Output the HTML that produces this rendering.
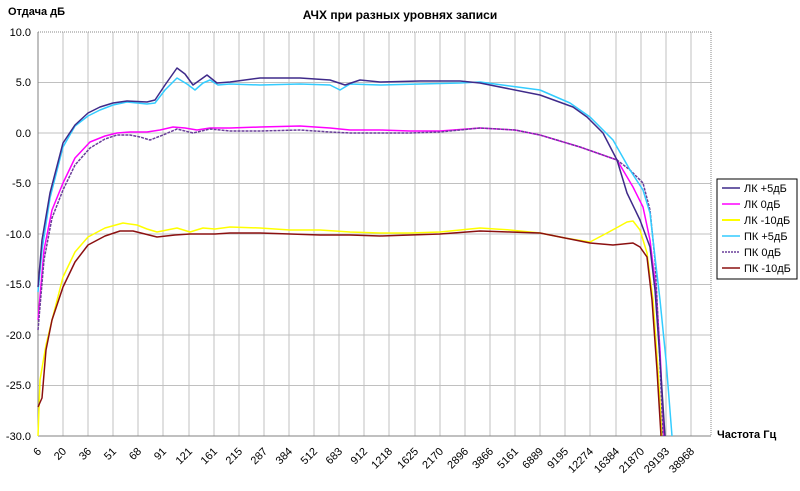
<!DOCTYPE html>
<html><head><meta charset="utf-8"><style>
body{margin:0;background:#fff;width:800px;height:486px;overflow:hidden}
svg text{font-family:"Liberation Sans",Arial,sans-serif}
</style></head><body>
<svg width="800" height="486" xmlns="http://www.w3.org/2000/svg">
<rect width="800" height="486" fill="#fff"/>
<text x="400" y="19" font-size="12" font-weight="bold" text-anchor="middle">АЧХ при разных уровнях записи</text>
<text x="8" y="15" font-size="11" font-weight="bold">Отдача дБ</text>
<text x="717" y="438" font-size="11" font-weight="bold">Частота Гц</text>
<g stroke="#c0c0c0" stroke-width="1">
<line x1="63" y1="32" x2="63" y2="436"/><line x1="88" y1="32" x2="88" y2="436"/><line x1="113" y1="32" x2="113" y2="436"/><line x1="138" y1="32" x2="138" y2="436"/><line x1="163" y1="32" x2="163" y2="436"/><line x1="189" y1="32" x2="189" y2="436"/><line x1="214" y1="32" x2="214" y2="436"/><line x1="239" y1="32" x2="239" y2="436"/><line x1="264" y1="32" x2="264" y2="436"/><line x1="289" y1="32" x2="289" y2="436"/><line x1="314" y1="32" x2="314" y2="436"/><line x1="339" y1="32" x2="339" y2="436"/><line x1="364" y1="32" x2="364" y2="436"/><line x1="389" y1="32" x2="389" y2="436"/><line x1="415" y1="32" x2="415" y2="436"/><line x1="440" y1="32" x2="440" y2="436"/><line x1="465" y1="32" x2="465" y2="436"/><line x1="490" y1="32" x2="490" y2="436"/><line x1="515" y1="32" x2="515" y2="436"/><line x1="540" y1="32" x2="540" y2="436"/><line x1="565" y1="32" x2="565" y2="436"/><line x1="590" y1="32" x2="590" y2="436"/><line x1="616" y1="32" x2="616" y2="436"/><line x1="641" y1="32" x2="641" y2="436"/><line x1="666" y1="32" x2="666" y2="436"/><line x1="691" y1="32" x2="691" y2="436"/>
<line x1="38" y1="82.5" x2="711" y2="82.5"/><line x1="38" y1="133" x2="711" y2="133"/><line x1="38" y1="183.5" x2="711" y2="183.5"/><line x1="38" y1="234" x2="711" y2="234"/><line x1="38" y1="284.5" x2="711" y2="284.5"/><line x1="38" y1="335" x2="711" y2="335"/><line x1="38" y1="385.5" x2="711" y2="385.5"/>
</g>
<line x1="38" y1="32" x2="711" y2="32" stroke="#888" stroke-dasharray="1,1"/>
<line x1="711" y1="32" x2="711" y2="436" stroke="#888" stroke-dasharray="1,1"/>
<line x1="38" y1="32" x2="38" y2="436" stroke="#808080"/>
<line x1="38" y1="436" x2="711" y2="436" stroke="#808080"/>
<g font-size="11" text-anchor="end">
<text x="31" y="36">10.0</text><text x="31" y="86">5.0</text><text x="31" y="137">0.0</text><text x="31" y="187">-5.0</text><text x="31" y="238">-10.0</text><text x="31" y="288">-15.0</text><text x="31" y="339">-20.0</text><text x="31" y="389">-25.0</text><text x="31" y="440">-30.0</text>
</g>
<g font-size="11" text-anchor="end">
<text transform="translate(42,452) rotate(-45)">6</text><text transform="translate(67,452) rotate(-45)">20</text><text transform="translate(92,452) rotate(-45)">36</text><text transform="translate(117,452) rotate(-45)">51</text><text transform="translate(142,452) rotate(-45)">68</text><text transform="translate(167,452) rotate(-45)">91</text><text transform="translate(193,452) rotate(-45)">121</text><text transform="translate(218,452) rotate(-45)">161</text><text transform="translate(243,452) rotate(-45)">215</text><text transform="translate(268,452) rotate(-45)">287</text><text transform="translate(293,452) rotate(-45)">384</text><text transform="translate(318,452) rotate(-45)">512</text><text transform="translate(343,452) rotate(-45)">683</text><text transform="translate(368,452) rotate(-45)">912</text><text transform="translate(393,452) rotate(-45)">1218</text><text transform="translate(419,452) rotate(-45)">1625</text><text transform="translate(444,452) rotate(-45)">2170</text><text transform="translate(469,452) rotate(-45)">2896</text><text transform="translate(494,452) rotate(-45)">3866</text><text transform="translate(519,452) rotate(-45)">5161</text><text transform="translate(544,452) rotate(-45)">6889</text><text transform="translate(569,452) rotate(-45)">9195</text><text transform="translate(594,452) rotate(-45)">12274</text><text transform="translate(620,452) rotate(-45)">16384</text><text transform="translate(645,452) rotate(-45)">21870</text><text transform="translate(670,452) rotate(-45)">29193</text><text transform="translate(695,452) rotate(-45)">38968</text>
</g>
<g fill="none" stroke-width="1.5" stroke-linejoin="round">
<!-- yellow LK -10 -->
<polyline stroke="#ffff00" points="38,436 40,380 46,345 52,320 63,277 75,252 88,237 105,228 123,223 137,225 147,229 157,232 167,230 177,228 190,232 203,228 215,229 230,227 260,228 290,230 320,230 350,232 380,233 410,233 440,232 480,228 510,230 540,233 565,238 590,242 607,233 618,227 627,222 633,221 640,230 647,253 653,300 658,370 662,436"/>
<!-- red PK -10 -->
<polyline stroke="#8b1010" points="38,407 42,398 46,350 52,320 63,287 75,262 88,245 105,236 120,231 133,231 145,234 157,237 175,235 190,234 215,234 230,233 260,233 290,234 320,235 350,235 380,236 410,235 440,234 480,231 510,232 540,233 565,238 590,243 613,245 633,243 640,247 647,257 652,300 657,370 661,436"/>
<!-- pink LK 0 -->
<polyline stroke="#ff00ff" points="38,320 44,250 52,210 63,183 75,158 90,142 105,136 117,133 130,132 147,132 160,130 173,127 185,128 197,130 210,128 230,128 260,127 300,126 330,128 350,130 380,130 410,131 440,131 480,128 515,130 540,135 580,147 617,160 633,187 643,207 650,240 656,290 660,350 664,436"/>
<!-- purple PK 0 -->
<polyline stroke="#6a3f9a" stroke-dasharray="3,1" points="38,330 44,260 52,218 63,190 75,165 90,148 105,139 117,135 130,135 140,137 150,140 163,135 177,129 193,133 210,129 230,131 260,131 300,130 330,132 350,133 380,133 410,133 440,132 480,128 515,130 540,135 580,147 617,160 630,170 643,183 650,210 655,260 659,340 663,436"/>
<!-- cyan PK +5 -->
<polyline stroke="#33ccff" points="38,292 42,250 50,198 63,147 75,126 88,116 100,110 113,105 127,102 147,104 155,103 165,90 177,78 187,84 195,90 203,83 210,80 218,85 230,84 260,85 300,84 330,85 340,90 350,84 380,85 420,84 460,83 480,82 540,90 570,103 590,117 613,140 630,170 643,190 650,213 655,257 660,300 666,360 672,436"/>
<!-- dark purple LK +5 -->
<polyline stroke="#3f2a8a" points="38,287 42,240 50,193 63,143 75,125 88,113 100,107 113,103 127,101 147,102 155,100 165,85 177,68 185,74 193,85 200,80 207,75 217,83 230,82 260,78 300,78 330,80 345,85 360,80 380,82 420,81 460,81 480,83 540,95 573,107 587,117 603,133 617,160 627,193 640,220 650,247 655,290 660,360 665,436"/>
</g>
<rect x="717" y="179" width="80" height="100" fill="#fff" stroke="#000" stroke-width="1"/>
<g stroke-width="1.5">
<line x1="722" y1="188" x2="740" y2="188" stroke="#3f2a8a"/>
<line x1="722" y1="204" x2="740" y2="204" stroke="#ff00ff"/>
<line x1="722" y1="220" x2="740" y2="220" stroke="#ffff00" stroke-width="2"/>
<line x1="722" y1="236" x2="740" y2="236" stroke="#33ccff"/>
<line x1="722" y1="252" x2="740" y2="252" stroke="#6a3f9a" stroke-dasharray="2,1"/>
<line x1="722" y1="268" x2="740" y2="268" stroke="#8b1010"/>
</g>
<g font-size="11">
<text x="744" y="192">ЛК +5дБ</text><text x="744" y="208">ЛК 0дБ</text><text x="744" y="224">ЛК -10дБ</text><text x="744" y="240">ПК +5дБ</text><text x="744" y="256">ПК 0дБ</text><text x="744" y="272">ПК -10дБ</text>
</g>
</svg>
</body></html>
